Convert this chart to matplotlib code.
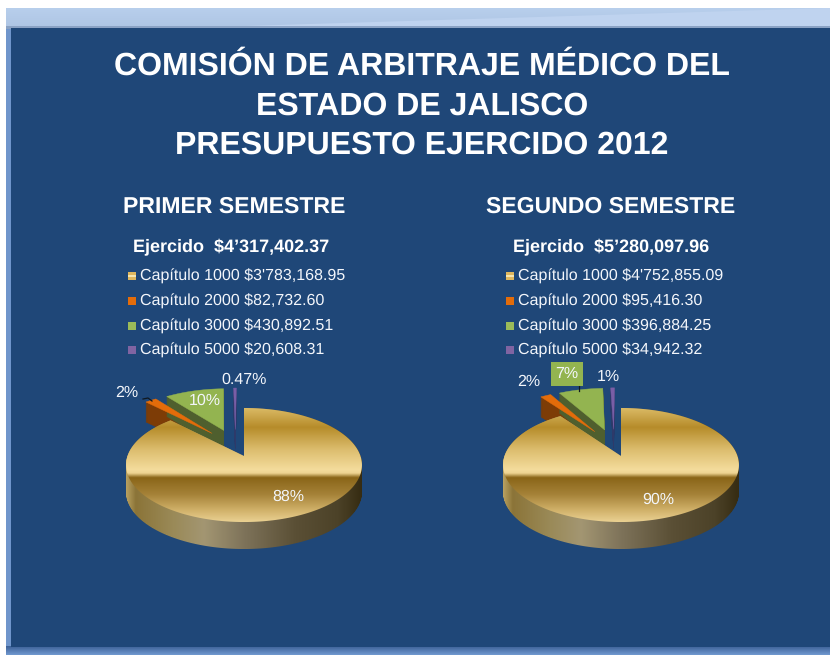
import numpy as np
import matplotlib
matplotlib.use("Agg")
import matplotlib.pyplot as plt
from matplotlib.colors import LinearSegmentedColormap
from matplotlib.path import Path
from matplotlib.patches import Rectangle, Polygon

plt.rcParams['font.family'] = ['Liberation Sans', 'DejaVu Sans']
plt.rcParams['text.hinting'] = 'no_hinting'
plt.rcParams['text.hinting_factor'] = 1

title_lines = ["COMISIÓN DE ARBITRAJE MÉDICO DEL", "ESTADO DE JALISCO", "PRESUPUESTO EJERCIDO 2012"]
chapters = ["Capítulo 1000", "Capítulo 2000", "Capítulo 3000", "Capítulo 5000"]
semester_1 = "PRIMER SEMESTRE"
semester_2 = "SEGUNDO SEMESTRE"
total_1 = "Ejercido  $4’317,402.37"
total_2 = "Ejercido  $5’280,097.96"
amounts_1 = ["$3'783,168.95", "$82,732.60", "$430,892.51", "$20,608.31"]
amounts_2 = ["$4'752,855.09", "$95,416.30", "$396,884.25", "$34,942.32"]
values_1 = [3783168.95, 82732.60, 430892.51, 20608.31]
values_2 = [4752855.09, 95416.30, 396884.25, 34942.32]
pct_1 = ["88%", "2%", "10%", "0.47%"]
pct_2 = ["90%", "2%", "7%", "1%"]

NAVY = "#1f4778"
TXT = "#f3f6fb"
top_cmap = LinearSegmentedColormap.from_list("top", [
    (0.0, "#dcbc68"), (0.175, "#b68c2a"), (0.37, "#dcbd6e"), (0.544, "#f4dc9c"),
    (0.575, "#eed492"), (0.614, "#8a6518"), (0.76, "#a58238"), (0.895, "#d0b068"), (1.0, "#ead192")])
side_cmap = LinearSegmentedColormap.from_list("side", [
    (0.0, "#b8a060"), (0.04, "#8b7438"), (0.2, "#9a8a58"), (0.33, "#a39672"), (0.5, "#7e735a"),
    (0.72, "#5a4f35"), (0.9, "#4c4228"), (1.0, "#362c12")])
top_cols = [None, "#e36c0a", "#93b450", "#7a5ea6"]
side_cols = [None, "#7d3c06", "#4f5f2e", "#2f3a6a"]
mark_cols = ["#dfb75e", "#e36c0a", "#9bbb59", "#8064a2"]

fig = plt.figure(figsize=(8.3, 6.55), dpi=100, facecolor="white")
ax = fig.add_axes([0, 0, 1, 1])
ax.set_xlim(0, 830)
ax.set_ylim(655, 0)
ax.axis("off")
helper = fig.add_axes([0, 0, 0.01, 0.01])
helper.set_visible(False)


def vgrad(x0, x1, y0, y1, c0, c1, z=0):
    cm = LinearSegmentedColormap.from_list("g", [c0, c1])
    ax.imshow(np.linspace(0, 1, 64)[:, None], extent=(x0, x1, y1, y0), cmap=cm,
              aspect="auto", interpolation="bilinear", zorder=z)


# page
vgrad(6, 830, 8, 28, "#b8cfec", "#aec5e4", 0)
ax.add_patch(Polygon([(180, 28), (830, 8), (830, 28)], closed=True, fc="#bfd3ef", ec="none", zorder=0.5))
ax.add_patch(Rectangle((6, 26), 824, 2.5, fc="#8aa2c4", ec="none", zorder=0.6))
vgrad(6, 830, 28, 655, "#6f95cb", "#6f95cb", 0)
vgrad(6, 830, 646, 655, "#3c6096", "#7199d0", 0.7)
ax.add_patch(Rectangle((11, 28), 819, 619, fc=NAVY, ec="none", zorder=1))

# titles
for t, y in zip(title_lines, [66, 106, 145]):
    ax.text(422, y, t, color="white", fontsize=22.9, fontweight="bold", ha="center", va="center", zorder=5)
ax.text(234, 207, semester_1, color="white", fontsize=16.7, fontweight="bold", ha="center", va="center", zorder=5)
ax.text(611, 207, semester_2, color="white", fontsize=16.7, fontweight="bold", ha="center", va="center", zorder=5)
ax.text(231, 247, total_1, color="white", fontsize=13.1, fontweight="bold", ha="center", va="center", zorder=5)
ax.text(611, 247, total_2, color="white", fontsize=13.1, fontweight="bold", ha="center", va="center", zorder=5)


def legend(x_mark, x_text, amounts):
    for i, (c, a, y) in enumerate(zip(chapters, amounts, [276, 301, 326, 350])):
        ax.add_patch(Rectangle((x_mark, y - 4), 8, 8, fc=mark_cols[i], ec="none", zorder=5))
        if i == 0:
            ax.add_patch(Rectangle((x_mark, y - 0.8), 8, 1.6, fc="#f6e6b0", ec="none", zorder=5.1))
        ax.text(x_text, y, f"{c} {a}", color=TXT, fontsize=11.4, ha="left", va="center", zorder=5)


legend(128, 140, amounts_1)
legend(506, 518, amounts_2)


def pie3d(values, cx, cy, sx=116.5, sy=55.6, k=0.158, depth=27, back_depth=20):
    wedges, _ = helper.pie(values, explode=[0.2, 0.33, 0.33, 0.33], startangle=90,
                           counterclock=False, radius=1)
    ox, oy = wedges[0].center

    def outline(w):
        th = np.radians(np.linspace(w.theta1, w.theta2, 240))
        x = np.r_[w.center[0], w.center[0] + w.r * np.cos(th)] - ox
        y = np.r_[w.center[1], w.center[1] + w.r * np.sin(th)] - oy
        d = 1 + k * y
        return np.c_[cx + sx * x / d, cy - sy * y / d]

    # back slices first
    for i in (1, 2, 3):
        pts = outline(wedges[i])
        for d in np.arange(back_depth, 0, -1):
            ax.add_patch(Polygon(pts + [0, d], closed=True, fc=side_cols[i], ec=side_cols[i], lw=0.3, zorder=2 + 0.01 * i))
        ax.add_patch(Polygon(pts, closed=True, fc=top_cols[i], ec=top_cols[i], lw=0.3, zorder=2.5 + 0.01 * i))

    # main slice
    pts = outline(wedges[0])
    x0, x1 = pts[:, 0].min(), pts[:, 0].max()
    y0, y1 = pts[:, 1].min(), pts[:, 1].max()
    copies = [Path(np.r_[pts + [0, d], (pts + [0, d])[:1]], closed=True) for d in range(0, depth + 1)]
    side_path = Path.make_compound_path(*copies)
    im = ax.imshow(np.linspace(0, 1, 256)[None, :], extent=(x0, x1, y1 + depth, y0), cmap=side_cmap,
                   aspect="auto", interpolation="bilinear", zorder=3)
    im.set_clip_path(side_path, ax.transData)
    im2 = ax.imshow(np.linspace(0, 1, 256)[:, None], extent=(x0, x1, y1, y0), cmap=top_cmap,
                    aspect="auto", interpolation="bilinear", zorder=3.5)
    im2.set_clip_path(Path(np.r_[pts, pts[:1]], closed=True), ax.transData)
    helper.clear()
    helper.set_visible(False)


pie3d(values_1, 244, 456)
pie3d(values_2, 621, 456)
ax.set_xlim(0, 830)
ax.set_ylim(655, 0)

# slice labels
for t, x, y in zip(pct_1, [288, 127, 205, 244], [497, 393, 401, 380]):
    ax.text(x, y, t, color=TXT, fontsize=11.6, ha="center", va="center", zorder=6)
for t, x, y in zip(pct_2, [658, 529, 567, 608], [500, 382, 374, 377]):
    if t == "7%":
        ax.text(x, y, t, color=TXT, fontsize=11.6, ha="center", va="center", zorder=6,
                bbox=dict(boxstyle="square,pad=0.3", fc="#93b450", ec="none"))
    else:
        ax.text(x, y, t, color=TXT, fontsize=11.6, ha="center", va="center", zorder=6)
ax.plot([143, 148, 152], [399, 398, 401], color="#101820", lw=0.9, zorder=4)
ax.plot([579, 579], [385, 391], color="#101820", lw=0.9, zorder=4)

fig.savefig("out.png", dpi=100, facecolor="white")
